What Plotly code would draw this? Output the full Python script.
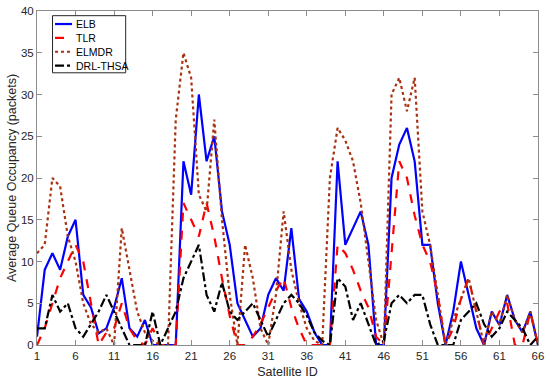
import plotly.graph_objects as go

sat_id = list(range(1, 67))

elb = [1, 9, 11, 9, 13, 15, 6, 4.5, 1.4, 2, 4.5, 8, 2, 1, 3, 0, 0, 0, 0, 22,
       18, 30, 22, 25, 16, 12, 5, 3, 1, 2, 6, 8, 6.5, 14, 5.5, 4, 1.5, 0, 0, 22,
       12, 14, 16, 12, 0, 0, 20, 24, 26, 22, 12, 12, 5, 0, 4, 10, 6, 2, 0, 4,
       2.4, 6, 3, 1.5, 4, 0]

tlr = [0, 2, 5, 8, 10, 12, 10, 5, 0, 1.5, 2, 5, 2, 0.5, 0, 2, 0, 0, 0, 17,
       15, 13, 17, 13, 8, 3.5, 0, 0, 1, 2.5, 4.5, 6.5, 8, 4.5, 2, 0, 0, 0, 0, 12,
       11, 9, 6.5, 4.5, 1, 0, 11, 22, 20, 15.5, 12, 10, 6, 0, 2, 5.5, 8, 4, 0, 2,
       4, 5, 0, 0, 4, 0]

elmdr = [11, 12, 20, 19, 13, 10, 5, 2.5, 1.5, 2, 0, 14, 9, 4, 1.5, 0.5, 0, 0, 27, 35,
         32, 18, 16, 27, 15, 6, 0, 12, 8, 2, 0, 6, 16, 9, 5, 2, 0.5, 0, 20, 26,
         24.5, 22, 17, 10, 3, 0, 30, 32, 28, 32, 16, 12, 6, 0, 3, 5.5, 8, 4, 0, 4,
         2.4, 6, 3, 1.5, 4, 0]

drl_thsa = [2, 2, 6, 4, 5, 2, 1, 2.5, 4, 6, 4, 2, 0, 0, 0, 4, 0, 2, 4, 8,
            10, 12, 6, 4, 7.5, 4, 3, 4, 5, 3, 1, 3, 5, 6, 5, 3.5, 1.5, 0.5, 0, 8,
            7, 3, 5, 2.5, 0, 0.5, 5, 6, 5, 6, 6, 2.5, 0, 0, 0, 3, 4, 5, 2.5, 1,
            2, 4, 3, 2, 0, 1]

series_names = ["ELB", "TLR", "ELMDR", "DRL-THSA"]
x_ticks = list(range(1, 67, 5))
y_ticks = list(range(0, 41, 5))

FONT = "Liberation Sans, Arial, sans-serif"
styles = [("#0000FF", "solid"), ("#FF0000", "dash"), ("#A83210", "dot"), ("#000000", "dashdot")]
data = [elb, tlr, elmdr, drl_thsa]

fig = go.Figure()
for name, vals, (color, dash) in zip(series_names, data, styles):
    fig.add_trace(go.Scatter(x=sat_id, y=vals, mode="lines", name=name, showlegend=False,
                             line=dict(color=color, width=2.2, dash=dash)))

axis_common = dict(showgrid=False, zeroline=False, showline=True, linecolor="#8c8c8c",
                   linewidth=1, mirror="ticks", ticks="inside", ticklen=5, automargin=False,
                   tickcolor="#8c8c8c", tickfont=dict(family=FONT, size=11.5, color="#262626"))

fig.update_xaxes(range=[1, 66], tickvals=x_ticks,
                 title=dict(text="Satellite ID", standoff=6, font=dict(family=FONT, size=12.5, color="#262626")),
                 **axis_common)
fig.update_yaxes(range=[0, 40], tickvals=y_ticks,
                 title=dict(text="Average Queue Occupancy (packets)", standoff=1,
                            font=dict(family=FONT, size=12.5, color="#262626")),
                 **axis_common)

# legend box drawn inside the axes (MATLAB style)
shapes = [dict(type="rect", xref="paper", yref="paper", x0=0.031, x1=0.177, y0=0.815, y1=0.986,
               line=dict(color="#262626", width=1), fillcolor="white", layer="above")]
annotations = []
row_top, row_step = 0.961, 0.0415
for i, (name, (color, dash)) in enumerate(zip(series_names, styles)):
    yy = row_top - i * row_step
    shapes.append(dict(type="line", xref="paper", yref="paper", x0=0.036, x1=0.070, y0=yy, y1=yy,
                       line=dict(color=color, width=2.2, dash=dash), layer="above"))
    annotations.append(dict(xref="paper", yref="paper", x=0.073, y=yy, text=name, showarrow=False,
                            xanchor="left", yanchor="middle",
                            font=dict(family=FONT, size=10.5, color="#000000")))

fig.update_layout(
    width=550, height=384,
    margin=dict(l=37, r=12, t=11, b=39),
    plot_bgcolor="white", paper_bgcolor="white",
    font=dict(family=FONT, size=11, color="#000000"),
    shapes=shapes, annotations=annotations,
    showlegend=False,
)

fig.write_html("out.html", config={"displayModeBar": False},
               post_script="document.body.style.margin='0';document.body.style.overflow='hidden';")
